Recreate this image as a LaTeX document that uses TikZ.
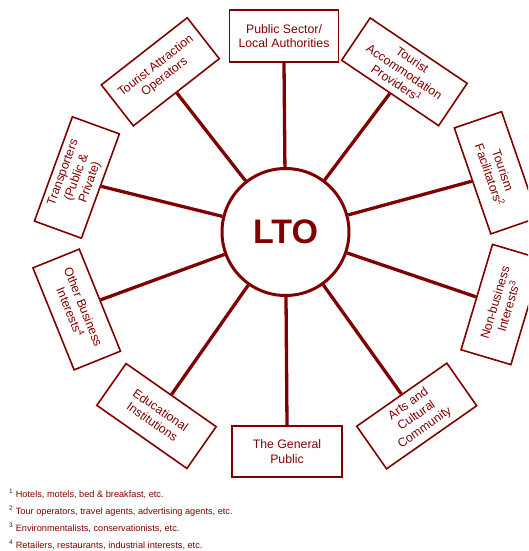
\documentclass[tikz,border=0pt]{standalone}
\usepackage{fontspec}
\setmainfont{Liberation Sans}
\definecolor{ltored}{RGB}{128,0,0}
\begin{document}
\begin{tikzpicture}[x=1pt,y=-1pt,
  stake/.style={draw=ltored, line width=1.6pt, text=ltored, minimum width=110pt,
    minimum height=51pt, inner sep=1pt, align=center,
    font=\fontsize{12.3}{14.3}\selectfont},
  spoke/.style={draw=ltored, line width=3.3pt},
  hub/.style={circle, draw=ltored, line width=3pt, minimum size=127pt, inner sep=0pt,
    text=ltored, font=\fontsize{34}{34}\selectfont\bfseries},
  note/.style={text=ltored, anchor=base west, inner sep=0pt,
    font=\fontsize{9.2}{11}\selectfont}]
\useasboundingbox (0,0) rectangle (528,551);
\clip (0,0) rectangle (528,551);

% central organisation
\node[hub] (lto) at (285.5,232) {LTO};

% stakeholder boxes around the hub
\node[stake, minimum width=109pt, minimum height=52pt] (pub) at (284,36) {Public Sector/\\Local Authorities};
\node[stake, rotate=38, minimum width=109pt, minimum height=52pt] (tao) at (160.3,71.8) {Tourist Attraction\\Operators};
\node[stake, rotate=-34, minimum width=117pt] (tap) at (404.4,71.8) {Tourist\\Accommodation\\Providers\textsuperscript{1}};
\node[stake, rotate=-71, minimum width=112pt, minimum height=50pt] (tf) at (496.2,172.8) {Tourism\\Facilitators\textsuperscript{2}};
\node[stake, rotate=73.4, minimum height=52pt] (nbi) at (501.7,304.5) {Non-business\\Interests\textsuperscript{3}};
\node[stake, rotate=35, minimum height=52pt] (arts) at (416.7,416) {Arts and\\Cultural\\Community};
\node[stake] (gp) at (287,451.5) {The General\\Public};
\node[stake, rotate=-35] (edu) at (156.5,416) {Educational\\Institutions};
\node[stake, rotate=-68, minimum height=50pt] (obi) at (76.7,309.5) {Other Business\\Interests\textsuperscript{4}};
\node[stake, rotate=70, minimum width=111pt, minimum height=50pt] (tr) at (76.9,177.5) {Transporters\\(Public \&\\Private)};

% spokes
\draw[spoke] (pub.south) -- (lto);
\draw[spoke] (tao.south) -- (lto);
\draw[spoke] (tap.south) -- (lto);
\draw[spoke] (tf.south) -- (lto);
\draw[spoke] (nbi.north) -- (lto);
\draw[spoke] (arts.north) -- (lto);
\draw[spoke] (gp.north) -- (lto);
\draw[spoke] (edu.north) -- (lto);
\draw[spoke] (obi.north) -- (lto);
\draw[spoke] (tr.south) -- (lto);

% footnotes
\node[note] (fn1) at (9,497.5) {\textsuperscript{1} Hotels, motels, bed \& breakfast, etc.};
\node[note] (fn2) at (9,514.5) {\textsuperscript{2} Tour operators, travel agents, advertising agents, etc.};
\node[note] (fn3) at (9,531.5) {\textsuperscript{3} Environmentalists, conservationists, etc.};
\node[note] (fn4) at (9,548) {\textsuperscript{4} Retailers, restaurants, industrial interests, etc.};
\end{tikzpicture}
\end{document}
